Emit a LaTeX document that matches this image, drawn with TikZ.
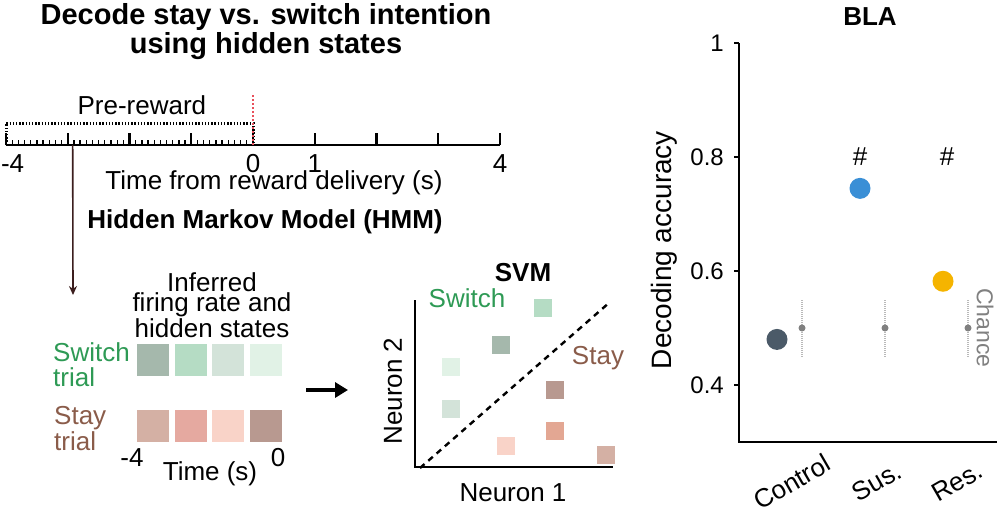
\documentclass[tikz,border=0pt]{standalone}
\usepackage{fontspec}
\setmainfont{Liberation Sans}
\usetikzlibrary{positioning,arrows.meta}

\definecolor{swgreen}{HTML}{2E9A55}
\definecolor{stbrown}{HTML}{8A5C4A}
\definecolor{sw1}{HTML}{A5B8AC}
\definecolor{sw2}{HTML}{B5DCC4}
\definecolor{sw3}{HTML}{D3E3D9}
\definecolor{sw4}{HTML}{E1F2E6}
\definecolor{st1}{HTML}{D4B0A4}
\definecolor{st2}{HTML}{E5A9A0}
\definecolor{st3}{HTML}{F9D3C8}
\definecolor{st4}{HTML}{B89990}
\definecolor{st5}{HTML}{E3A793}
\definecolor{ctrlc}{HTML}{4B5A68}
\definecolor{susc}{HTML}{3A8FD6}
\definecolor{resc}{HTML}{F5B400}
\definecolor{hmmarrow}{HTML}{3C1E1E}
\definecolor{zeroline}{HTML}{E8505B}

\begin{document}
\begin{tikzpicture}[x=1pt, y=-1pt, line width=2.4pt,
    txt/.style = {font=\fontsize{26}{21}\selectfont, inner sep=0pt},
    hd/.style = {font=\fontsize{26}{30}\selectfont\bfseries, inner sep=0pt},
    sq/.style = {minimum size=32pt, inner sep=0pt},
    svmpt/.style = {minimum size=18pt, inner sep=0pt},
    grp/.style = {circle, minimum size=21pt, inner sep=0pt} ]
        \useasboundingbox (0,0) rectangle (1000,525);

        \node[hd, font=\fontsize{29}{29}\selectfont\bfseries, align=center] (title) at (266,32) {Decode stay vs. switch intention\\using hidden states};

        % timeline
        \begin{scope}[shift={(253,145)}, x=61.75pt]
        \draw (-4,0) -- (4,0);
        \foreach \t in {-4,...,4} \draw (\t,0) -- (\t,-12);
        \foreach \i in {1,...,39} \draw[line width=1.3pt] (\i/10-4,0) -- (\i/10-4,-5);
        \draw[line width=3pt, dash pattern=on 1.4pt off 1.8pt] (-4,0) -- (-4,-22) -- (0,-22) -- (0,0);
        \draw[zeroline, line width=1.6pt, dash pattern=on 2.5pt off 1.5pt] (0,0) -- (0,-52);
        \node[txt] (pre) at (-1.8,-40) {Pre-reward};
        \node[txt, anchor=west] (m4) at (-4.1,19) {-4};
        \node[txt] (t0) at (0,19) {0};
        \node[txt] (t1) at (1,19) {1};
        \node[txt] (t4) at (4,19) {4};
        \node[txt] (tl) at (0.34,38) {Time from reward delivery (s)};
        \coordinate (tap) at (-2.92,0);
        \end{scope}

        \node[hd] (hmm) at (265,222) {Hidden Markov Model (HMM)};
        \coordinate (hin) at (73,295);
        \draw[-{Stealth[length=9pt,width=8pt]}, line width=1.6pt, hmmarrow] (tap) -- (hin);

        % heatmap
        \node[txt, align=center, font=\fontsize{26}{20.5}\selectfont] (inf) at (212,305) {Inferred\\firing rate and\\hidden states};
        \foreach \i in {1,...,4} {
            \node[sq, fill=sw\i] (sw\i) at ({115.5+37.5*\i},360) {};
            \node[sq, fill=st\i] (st\i) at ({115.5+37.5*\i},425.5) {};
        }
        \node[txt, align=left, text=swgreen, anchor=west, font=\fontsize{26}{25}\selectfont] (swl) at (52,364.5) {Switch\\trial};
        \node[txt, align=left, text=stbrown, anchor=west, font=\fontsize{26}{26}\selectfont] (stl) at (53,429) {Stay\\trial};
        \node[txt] (hm4) at (132,458) {-4};
        \node[txt] (h0) at (278,458) {0};
        \node[txt] (htime) at (210,474) {Time (s)};

        \coordinate (aa) at (306,390);
        \coordinate (ab) at (348,390);
        \draw[-{Triangle[length=13pt,width=15pt]}, line width=3.5pt] (aa) -- (ab);

        % SVM
        \node[hd] (svm) at (523,273) {SVM};
        \coordinate (ytop) at (415,300);
        \coordinate (o) at (415,467);
        \coordinate (xend) at (613,467);
        \draw (ytop) -- (o) -- (xend);
        \coordinate (da) at (420,468);
        \coordinate (db) at (610,302);
        \draw[dash pattern=on 6pt off 5pt] (da) -- (db);
        \foreach \x/\y/\c [count=\k] in {543/307.5/sw2, 500.5/345/sw1, 451/366.5/sw4, 451/409/sw3,
                555/390/st4, 555/431/st5, 506/446/st3, 606/455/st1}
            \node[svmpt, fill=\c] (p\k) at (\x,\y) {};
        \node[txt, text=swgreen] (svsw) at (467,298) {Switch};
        \node[txt, text=stbrown] (svst) at (598,358) {Stay};
        \node[txt, rotate=90] (n2) at (393,391) {Neuron 2};
        \node[txt] (n1) at (513,493) {Neuron 1};

        % decoding accuracy
        \node[hd] (bla) at (870,17) {BLA};
        \node[txt, rotate=90, font=\fontsize{28}{28}\selectfont] (dacc) at (664,250) {Decoding accuracy};
        \begin{scope}[shift={(739,613)}, y=570pt]
        \draw (0,1) -- (0,0.3) -- (258,0.3);
        \foreach \v in {1,0.8,0.6,0.4}
            \draw (0,\v) -- (-5,\v) node[txt, anchor=east, xshift=-9pt, font=\fontsize{24}{24}\selectfont] {\v};
        \foreach \x in {63,146,229} {
            \draw[gray!55, line width=1.5pt, dash pattern=on 1pt off 1pt] (\x,0.45) -- (\x,0.55);
            \fill[gray] (\x,0.5) circle (3.5pt);
        }
        \node[grp, fill=ctrlc] (ctrl) at (38,0.48) {};
        \node[grp, fill=susc] (sus) at (121,0.745) {};
        \node[grp, fill=resc] (res) at (204,0.582) {};
        \node[txt] (hs1) at (121,0.8) {\#};
        \node[txt] (hs2) at (208,0.8) {\#};
        \node[txt, rotate=-90, text=gray, font=\fontsize{23}{23}\selectfont] (chance) at (246,0.5) {Chance};
        \node[txt, rotate=30] (lc) at (53,0.23) {Control};
        \node[txt, rotate=30] (ls) at (138,0.23) {Sus.};
        \node[txt, rotate=30] (lr) at (218,0.23) {Res.};
        \end{scope}

\end{tikzpicture}
\end{document}
